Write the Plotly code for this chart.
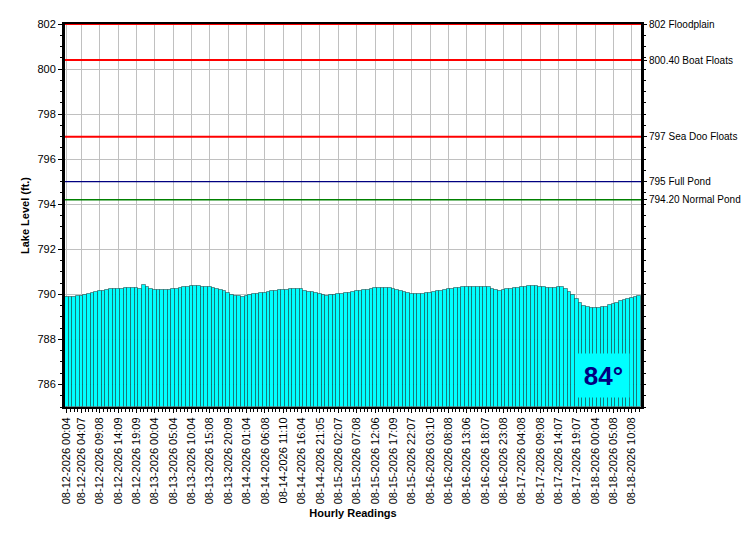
import plotly.graph_objects as go

# hourly lake level readings (ft.)
levels = [
    789.87, 789.87, 789.90, 789.93, 789.93, 789.98, 790.01, 790.05, 790.10, 790.14,
    790.17, 790.20, 790.22, 790.24, 790.24, 790.26, 790.27, 790.27, 790.27, 790.27,
    790.26, 790.41, 790.32, 790.25, 790.21, 790.19, 790.19, 790.18, 790.20, 790.24,
    790.26, 790.30, 790.32, 790.33, 790.36, 790.36, 790.36, 790.34, 790.32, 790.31,
    790.28, 790.25, 790.20, 790.15, 790.07, 789.98, 789.93, 789.91, 789.90, 789.92,
    789.97, 790.00, 790.01, 790.05, 790.08, 790.11, 790.14, 790.16, 790.18, 790.19,
    790.21, 790.23, 790.23, 790.23, 790.22, 790.17, 790.12, 790.10, 790.06, 790.01,
    789.98, 789.94, 789.95, 789.98, 790.00, 790.01, 790.04, 790.06, 790.10, 790.13,
    790.16, 790.18, 790.20, 790.24, 790.27, 790.27, 790.27, 790.27, 790.27, 790.26,
    790.21, 790.16, 790.11, 790.07, 790.03, 790.01, 790.01, 790.01, 790.04, 790.07,
    790.10, 790.13, 790.17, 790.20, 790.22, 790.24, 790.27, 790.28, 790.32, 790.32,
    790.32, 790.32, 790.32, 790.32, 790.32, 790.32, 790.25, 790.18, 790.17, 790.18,
    790.22, 790.26, 790.27, 790.28, 790.31, 790.33, 790.35, 790.36, 790.36, 790.34,
    790.32, 790.30, 790.28, 790.30, 790.32, 790.32, 790.25, 790.12, 789.98, 789.80,
    789.62, 789.48, 789.42, 789.40, 789.40, 789.40, 789.42, 789.46, 789.53, 789.58,
    789.63, 789.70, 789.75, 789.80, 789.84, 789.88, 789.92,
]

# index of the reading -> timestamp label shown on the x axis
label_index = [0, 4, 9, 14, 19, 24, 29, 34, 39, 44, 49, 54, 59, 64, 69, 74,
               79, 84, 89, 94, 99, 104, 109, 114, 119, 124, 129, 134, 139, 144, 149, 154]
label_text = [
    "08-12-2026 00:04", "08-12-2026 04:07", "08-12-2026 09:08", "08-12-2026 14:09",
    "08-12-2026 19:09", "08-13-2026 00:04", "08-13-2026 05:04", "08-13-2026 10:04",
    "08-13-2026 15:08", "08-13-2026 20:09", "08-14-2026 01:04", "08-14-2026 06:08",
    "08-14-2026 11:10", "08-14-2026 16:04", "08-14-2026 21:05", "08-15-2026 02:07",
    "08-15-2026 07:08", "08-15-2026 12:06", "08-15-2026 17:09", "08-15-2026 22:07",
    "08-16-2026 03:10", "08-16-2026 08:08", "08-16-2026 13:06", "08-16-2026 18:07",
    "08-16-2026 23:08", "08-17-2026 04:08", "08-17-2026 09:08", "08-17-2026 14:07",
    "08-17-2026 19:07", "08-18-2026 00:04", "08-18-2026 05:08", "08-18-2026 10:08",
]

# reference levels
ref_levels = [802, 800.40, 797, 795, 794.20]
ref_names = ["802 Floodplain", "800.40 Boat Floats", "797 Sea Doo Floats",
             "795 Full Pond", "794.20 Normal Pond"]
ref_colors = ["#ff0000", "#ff0000", "#ff0000", "#000080", "#008000"]
ref_widths = [2, 2, 2, 1.3, 1.3]

water_temp = 84
y_range = [785, 802]
y_ticks = [786, 788, 790, 792, 794, 796, 798, 800, 802]

font = "Liberation Sans, Arial, sans-serif"
n = len(levels)
xs = list(range(n))

fig = go.Figure()

fig.add_trace(go.Bar(
    x=xs, y=[v - y_range[0] for v in levels], base=y_range[0],
    marker=dict(color="#00ffff", line=dict(color="rgba(0,0,0,0.4)", width=1)),
    width=1, hoverinfo="skip", showlegend=False,
))

for lvl, col, w in zip(ref_levels, ref_colors, ref_widths):
    fig.add_shape(type="line", xref="x domain", yref="y", x0=0, x1=1, y0=lvl, y1=lvl,
                  line=dict(color=col, width=w))

# invisible trace so the right axis is drawn
fig.add_trace(go.Scatter(x=[0], y=[ref_levels[0]], yaxis="y2", mode="markers",
                         marker=dict(opacity=0), hoverinfo="skip", showlegend=False))

fig.add_annotation(
    xref="paper", yref="paper", x=0.935, y=0.024, xanchor="center", yanchor="bottom",
    text=f"<b>{water_temp}°</b>", showarrow=False,
    font=dict(family=font, size=26, color="#000080"),
    bgcolor="#00ffff", width=49, height=41,
)

# page body adds an 8px offset, so the figure is a bit smaller than the window
fig.update_layout(
    width=742, height=542,
    margin=dict(l=57, r=109, t=16, b=143),
    paper_bgcolor="white", plot_bgcolor="white",
    bargap=0,
    font=dict(family=font, size=11, color="black"),
    xaxis=dict(
        range=[-0.5, n - 0.5], tickmode="array", tickvals=label_index, ticktext=label_text,
        tickangle=-90, showgrid=True, gridcolor="#c0c0c0", gridwidth=1,
        showline=True, linecolor="black", linewidth=2, mirror=True,
        ticks="outside", ticklen=4, tickcolor="black",
        minor=dict(tick0=0, dtick=1, ticks="outside", ticklen=3, tickcolor="black", showgrid=False),
        title=dict(text="<b>Hourly Readings</b>", font=dict(size=11), standoff=6),
        zeroline=False, automargin=False,
    ),
    yaxis=dict(
        range=y_range, tickmode="array", tickvals=y_ticks,
        showgrid=True, gridcolor="#c0c0c0", gridwidth=1,
        showline=True, linecolor="black", linewidth=3,
        ticks="outside", ticklen=4, tickcolor="black",
        minor=dict(tick0=785, dtick=0.5, ticks="outside", ticklen=2, tickcolor="black", showgrid=False),
        title=dict(text="<b>Lake Level (ft.)</b>", font=dict(size=11), standoff=6),
        zeroline=False, automargin=False,
    ),
    yaxis2=dict(
        range=y_range, overlaying="y", side="right", tickmode="array",
        tickvals=ref_levels, ticktext=ref_names, showgrid=False,
        showline=True, linecolor="black", linewidth=3,
        ticks="outside", ticklen=3, tickcolor="black", tickfont=dict(size=10),
        minor=dict(tick0=785, dtick=0.5, ticks="outside", ticklen=2, tickcolor="black", showgrid=False),
        zeroline=False, automargin=False,
    ),
)

fig.write_html("out.html")
